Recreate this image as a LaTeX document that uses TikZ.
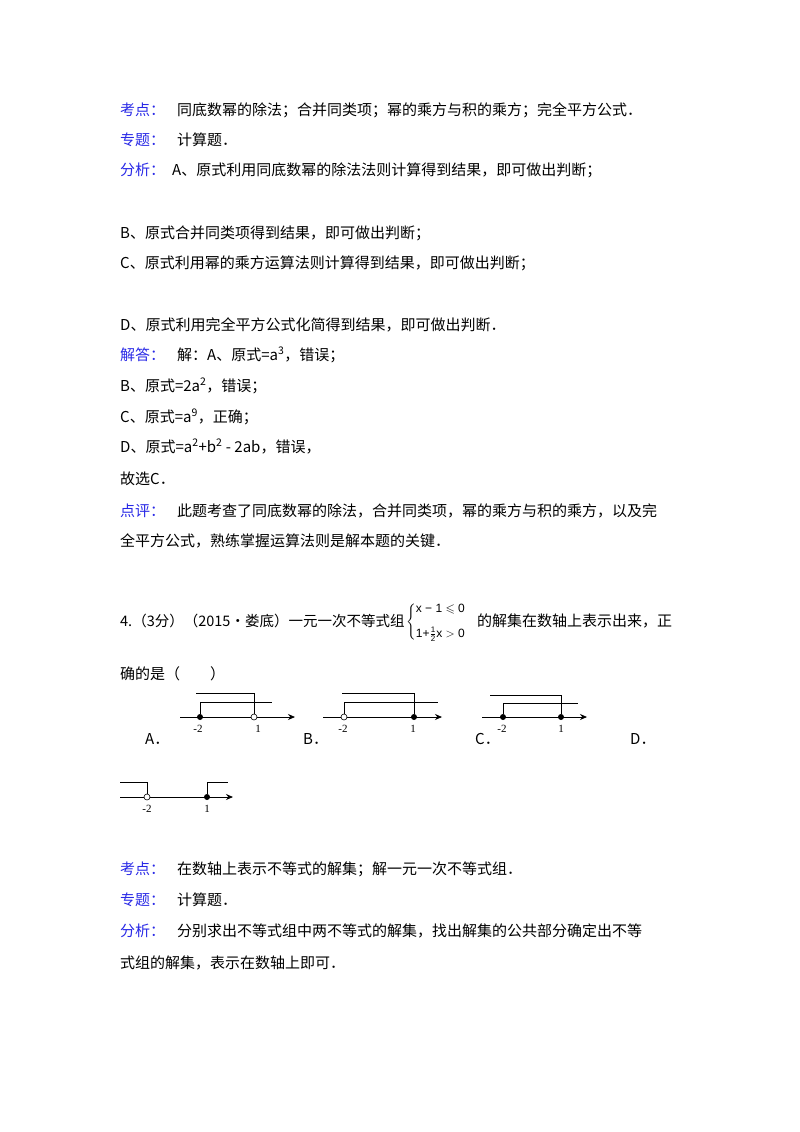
\documentclass[tikz,border=0pt]{standalone}
\usepackage{amsmath,amssymb}
\usepackage{fontspec}
\setmainfont{Liberation Serif}
\newfontfamily\cjk{Noto Sans CJK SC}
\newfontfamily\arl{Liberation Sans}
\usetikzlibrary{arrows.meta}
\definecolor{kb}{RGB}{40,40,230}
\begin{document}
\begin{tikzpicture}[x=1pt,y=-1pt,
 t/.style={anchor=base west,inner sep=0pt,font=\fontsize{15}{18}\selectfont\cjk},
 kw/.style={t,text=kb},
 ax/.style={line width=0.8pt,-{Stealth[length=7pt,width=6pt]}},
 br/.style={line width=0.8pt},
 fd/.style={circle,fill=black,inner sep=0pt,minimum size=6pt},
 od/.style={circle,draw=black,fill=white,line width=0.6pt,inner sep=0pt,minimum size=6pt},
 lb/.style={anchor=base,inner sep=0pt,font=\fontsize{11}{12}\selectfont},
 ch/.style={anchor=base west,inner sep=0pt,font=\fontsize{15}{18}\selectfont\cjk}]
\useasboundingbox (0,0) rectangle (800,1132);
\node[kw] (k1) at (120,115) {考点：};
\node[t] (k1t) at (177,115) {同底数幂的除法；合并同类项；幂的乘方与积的乘方；完全平方公式．};
\node[kw] (k2) at (120,145) {专题：};
\node[t] (k2t) at (177,145) {计算题．};
\node[kw] (k3) at (120,175) {分析：};
\node[t] (k3t) at (172,175) {A、原式利用同底数幂的除法法则计算得到结果，即可做出判断；};
\node[t] (l1) at (120,238) {B、原式合并同类项得到结果，即可做出判断；};
\node[t] (l2) at (120,268) {C、原式利用幂的乘方运算法则计算得到结果，即可做出判断；};
\node[t] (l3) at (120,330) {D、原式利用完全平方公式化简得到结果，即可做出判断．};
\node[kw] (k4) at (120,360) {解答：};
\node[t] (k4t) at (177,360) {解：A、原式=a\textsuperscript{3}，错误；};
\node[t] (l4) at (120,391) {B、原式=2a\textsuperscript{2}，错误；};
\node[t] (l5) at (120,422) {C、原式=a\textsuperscript{9}，正确；};
\node[t] (l6) at (120,452) {D、原式=a\textsuperscript{2}+b\textsuperscript{2} - 2ab，错误，};
\node[t] (l7) at (120,484) {故选C．};
\node[kw] (k5) at (120,516) {点评：};
\node[t] (k5t) at (177,516) {此题考查了同底数幂的除法，合并同类项，幂的乘方与积的乘方，以及完};
\node[t] (l8) at (120,546) {全平方公式，熟练掌握运算法则是解本题的关键．};
\node[t,font=\fontsize{14.5}{18}\selectfont\cjk] (q) at (120,626) {4.（3分）（2015•娄底）一元一次不等式组};
\node[anchor=west,inner sep=0pt,font=\fontsize{12}{14}\selectfont\arl] (sys) at (406,622)
 {$\left\{\begin{array}{@{}l@{}}\text{x − 1}\leqslant\text{0}\\[10pt]\text{1+}\frac{\text{1}}{\text{2}}\text{x}>\text{0}\end{array}\right.$};
\node[t] (q2) at (477,626) {的解集在数轴上表示出来，正};
\node[t] (q3) at (120,679) {确的是（　　）};
% A
\draw[ax] (180,717) -- (295,717);
\node[fd] (am) at (200,717) {}; \node[od] (ap) at (254,717) {};
\draw[br] (am) -- (200,702) -- (272,702);
\draw[br] (196,693) -- (254,693) -- (ap);
\node[lb] at (198,732) {-2}; \node[lb] at (258,732) {1};
\node[ch] at (145,744) {A．};
% B
\draw[ax] (323,717) -- (442,717);
\node[od] (bm) at (344,717) {}; \node[fd] (bp) at (414,717) {};
\draw[br] (bm) -- (344,702) -- (438,702);
\draw[br] (342,693) -- (414,693) -- (bp);
\node[lb] at (343,732) {-2}; \node[lb] at (413,732) {1};
\node[ch] at (303,744) {B．};
% C
\draw[ax] (482,717) -- (587,717);
\node[fd] (cm) at (503,717) {}; \node[fd] (cp) at (561,717) {};
\draw[br] (cm) -- (503,703) -- (578,703);
\draw[br] (490,695) -- (561,695) -- (cp);
\node[lb] at (502,732) {-2}; \node[lb] at (561,732) {1};
\node[ch] at (475,744) {C．};
\node[ch] at (630,744) {D．};
% D
\draw[ax] (120,797) -- (233,797);
\node[od] (dm) at (147,797) {}; \node[fd] (dp) at (207,797) {};
\draw[br] (120,782) -- (147,782) -- (dm);
\draw[br] (dp) -- (207,782) -- (228,782);
\node[lb] at (147,812) {-2}; \node[lb] at (207,812) {1};
\node[kw] (k6) at (120,874) {考点：};
\node[t] (k6t) at (177,874) {在数轴上表示不等式的解集；解一元一次不等式组．};
\node[kw] (k7) at (120,905) {专题：};
\node[t] (k7t) at (177,905) {计算题．};
\node[kw] (k8) at (120,936) {分析：};
\node[t] (k8t) at (177,936) {分别求出不等式组中两不等式的解集，找出解集的公共部分确定出不等};
\node[t] (l9) at (120,968) {式组的解集，表示在数轴上即可．};
\end{tikzpicture}
\end{document}
